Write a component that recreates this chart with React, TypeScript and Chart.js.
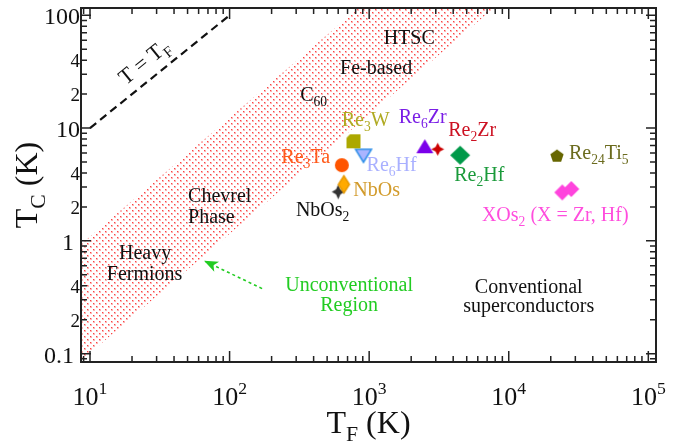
import React, { useEffect, useRef } from "react";
import { Chart, registerables } from "chart.js";

Chart.register(...registerables);

// ---------- axis ranges ----------
const X_RANGE = [8.62, 113500];
const Y_RANGE = [0.0843, 116];

// ---------- tick labels ----------
const xMajorTicks = [10, 100, 1000, 10000, 100000];
const xMajorLabels = ["10^{1}", "10^{2}", "10^{3}", "10^{4}", "10^{5}"];
const yMajorTicks = [0.1, 1, 10, 100];
const yMajorLabels = ["0.1 ", "1 ", "10", "100"];
const yMinorLabelTicks = [0.2, 0.4, 2, 4, 20, 40];
const yMinorLabels = ["2", "4", "2", "4", "2", "4"];

// ---------- materials ----------
const materials = ["Re3W", "Re6Hf", "Re3Ta", "NbOs", "NbOs2", "Re6Zr", "Re2Zr", "Re2Hf", "Re24Ti5", "XOs2"];
const materialTF = [[772], [910], [637], [659], [600], [2506], [3097], [4487], [22150], [24180, 28050]];
const materialTC = [[7.63], [5.68], [4.69], [3.17], [2.72], [6.9], [6.49], [5.74], [5.74], [2.69, 2.88]];
const materialLabels = ["Re_{3}W", "Re_{6}Hf", "Re_{3}Ta", "NbOs", "NbOs_{2}", "Re_{6}Zr", "Re_{2}Zr", "Re_{2}Hf", "Re_{24}Ti_{5}", "XOs_{2} (X = Zr, Hf)"];
const materialLabelTF = [944, 1449, 351, 1132, 464, 2418, 5470, 6150, 44200, 21540];
const materialLabelTC = [10.35, 4.15, 4.88, 2.5, 1.66, 11.0, 8.45, 3.39, 5.29, 1.502];

// ---------- unconventional band (polygon) ----------
const bandTF = [8.6, 840, 7800, 8.3];
const bandTC = [0.93, 116, 116, 0.083];

// ---------- T = TF line ----------
const equalTF = [10, 100];
const equalTC = [10, 100];

// ---------- arrow ----------
const arrowTF = [171, 65.6];
const arrowTC = [0.377, 0.666];

// ---------- region notes ----------
const noteTexts = ["HTSC", "Fe-based", "C_{60}", "Chevrel", "Phase", "Heavy", "Fermions", "Unconventional", "Region", "Conventional", "superconductors"];
const noteTF = [1936, 1122, 400, 50.4, 50.4, 24.8, 24.6, 719, 719, 13900, 13900];
const noteTC = [55.9, 30.4, 17.2, 2.21, 1.442, 0.694, 0.453, 0.362, 0.241, 0.348, 0.2317];
const noteAlign = ["center", "center", "center", "left", "left", "center", "center", "center", "center", "center", "center"];
const noteColors = ["#111", "#111", "#111", "#111", "#111", "#111", "#111", "#22cc22", "#22cc22", "#111", "#111"];

const equalLabel = "T = T_{F}";
const equalLabelTF = 24.4;
const equalLabelTC = 38.8;

const markerStyles = [
  { shape: "bevelSquare", w: 14, h: 14, fill: "#aca800", stroke: "", text: "#b0aa22" },
  { shape: "triDown", w: 16, h: 13, fill: "#aab4ff", stroke: "#2e8fe8", text: "#a9b0ff" },
  { shape: "circle", w: 14, h: 14, fill: "#ff5500", stroke: "", text: "#ff5a1a" },
  { shape: "diamond", w: 11, h: 17, fill: "#ffaa00", stroke: "#e89a00", text: "#d29b2c" },
  { shape: "star4", w: 13, h: 15, fill: "#333333", stroke: "", text: "#111111" },
  { shape: "triUp", w: 17, h: 14, fill: "#7a00ea", stroke: "", text: "#7a1ee6" },
  { shape: "star4", w: 13, h: 13, fill: "#cc0000", stroke: "", text: "#cc1122" },
  { shape: "diamond", w: 20, h: 19, fill: "#009949", stroke: "", text: "#1a9a3a" },
  { shape: "pentagon", w: 14, h: 13, fill: "#666600", stroke: "", text: "#6b6b1e" },
  { shape: "diamond", w: 16, h: 16, fill: "#ff44dd", stroke: "", text: "#ff4ddd" },
];

const FONT = '"Liberation Serif", "Times New Roman", Times, serif';

function makeMarker(s: any) {
  const pad = 2;
  const c = document.createElement("canvas");
  c.width = s.w + pad * 2;
  c.height = s.h + pad * 2;
  const g = c.getContext("2d")!;
  const cx = c.width / 2, cy = c.height / 2, rx = s.w / 2, ry = s.h / 2;
  g.beginPath();
  if (s.shape === "circle") {
    g.ellipse(cx, cy, rx, ry, 0, 0, Math.PI * 2);
  } else if (s.shape === "diamond") {
    g.moveTo(cx, cy - ry); g.lineTo(cx + rx, cy); g.lineTo(cx, cy + ry); g.lineTo(cx - rx, cy);
  } else if (s.shape === "triUp") {
    g.moveTo(cx, cy - ry); g.lineTo(cx + rx, cy + ry); g.lineTo(cx - rx, cy + ry);
  } else if (s.shape === "triDown") {
    g.moveTo(cx - rx, cy - ry); g.lineTo(cx + rx, cy - ry); g.lineTo(cx, cy + ry);
  } else if (s.shape === "pentagon") {
    for (let i = 0; i < 5; i++) {
      const a = -Math.PI / 2 + (i * 2 * Math.PI) / 5;
      const px = cx + rx * Math.cos(a), py = cy + 1 + ry * 1.05 * Math.sin(a);
      if (i === 0) g.moveTo(px, py); else g.lineTo(px, py);
    }
  } else if (s.shape === "star4") {
    for (let i = 0; i < 8; i++) {
      const a = -Math.PI / 2 + (i * Math.PI) / 4;
      const k = i % 2 === 0 ? 1 : 0.48;
      const px = cx + rx * k * Math.cos(a), py = cy + ry * k * Math.sin(a);
      if (i === 0) g.moveTo(px, py); else g.lineTo(px, py);
    }
  } else if (s.shape === "bevelSquare") {
    const b = 3.5;
    g.moveTo(cx - rx + b, cy - ry); g.lineTo(cx + rx, cy - ry); g.lineTo(cx + rx, cy + ry);
    g.lineTo(cx - rx, cy + ry); g.lineTo(cx - rx, cy - ry + b);
  }
  g.closePath();
  g.fillStyle = s.fill;
  g.fill();
  if (s.stroke) {
    g.strokeStyle = s.stroke;
    g.lineWidth = 1.5;
    g.stroke();
  }
  return c;
}

function makeDots(ctx: CanvasRenderingContext2D) {
  const t = document.createElement("canvas");
  t.width = 6; t.height = 6;
  const g = t.getContext("2d")!;
  g.fillStyle = "rgba(250,40,40,0.35)";
  g.fillRect(0, 0, 2, 2);
  g.fillRect(3, 3, 2, 2);
  g.fillStyle = "rgba(250,30,30,0.75)";
  g.fillRect(0, 0, 1, 1);
  g.fillRect(3, 3, 1, 1);
  return ctx.createPattern(t, "repeat");
}

function parseRich(s: string) {
  const parts: { t: string; k: string }[] = [];
  const re = /([_^])\{([^}]*)\}/g;
  let last = 0;
  let m: RegExpExecArray | null;
  while ((m = re.exec(s))) {
    if (m.index > last) parts.push({ t: s.slice(last, m.index), k: "" });
    parts.push({ t: m[2], k: m[1] });
    last = re.lastIndex;
  }
  if (last < s.length) parts.push({ t: s.slice(last), k: "" });
  return parts;
}

function drawRich(ctx: CanvasRenderingContext2D, s: string, x: number, y: number, size: number, color: string, align: string) {
  const parts = parseRich(s);
  const small = size * 0.68;
  let w = 0;
  for (const p of parts) {
    ctx.font = `${p.k ? small : size}px ${FONT}`;
    w += ctx.measureText(p.t).width;
  }
  let cx = align === "center" ? x - w / 2 : align === "right" ? x - w : x;
  ctx.textAlign = "left";
  ctx.textBaseline = "alphabetic";
  ctx.fillStyle = color;
  for (const p of parts) {
    ctx.font = `${p.k ? small : size}px ${FONT}`;
    const dy = p.k === "_" ? size * 0.25 : p.k === "^" ? -size * 0.42 : 0;
    ctx.fillText(p.t, cx, y + dy);
    cx += ctx.measureText(p.t).width;
  }
}

function minorValues(min: number, max: number) {
  const out: number[] = [];
  for (let k = -3; k <= 6; k++) {
    for (let m = 2; m <= 9; m++) {
      const v = Number((m * Math.pow(10, k)).toPrecision(6));
      if (v >= min && v <= max) out.push(v);
    }
  }
  return out;
}

const overlay = {
  id: "overlay",
  afterDatasetsDraw(chart: any) {
    const { ctx, chartArea: a } = chart;
    const xs = chart.scales.x, ys = chart.scales.y;
    ctx.save();

    // arrow head
    const am = chart.getDatasetMeta(2).data;
    if (am.length === 2) {
      const t = am[0], h = am[1];
      const ang = Math.atan2(h.y - t.y, h.x - t.x);
      const L = 14, W = 5.5;
      ctx.beginPath();
      ctx.moveTo(h.x, h.y);
      ctx.lineTo(h.x - L * Math.cos(ang) + W * Math.sin(ang), h.y - L * Math.sin(ang) - W * Math.cos(ang));
      ctx.lineTo(h.x - L * 0.75 * Math.cos(ang), h.y - L * 0.75 * Math.sin(ang));
      ctx.lineTo(h.x - L * Math.cos(ang) - W * Math.sin(ang), h.y - L * Math.sin(ang) + W * Math.cos(ang));
      ctx.closePath();
      ctx.fillStyle = "#22cc22";
      ctx.fill();
    }

    // notes
    noteTexts.forEach((t, i) => {
      drawRich(ctx, t, xs.getPixelForValue(noteTF[i]), ys.getPixelForValue(noteTC[i]), 20, noteColors[i], noteAlign[i]);
    });
    // material labels
    materialLabels.forEach((t, i) => {
      drawRich(ctx, t, xs.getPixelForValue(materialLabelTF[i]), ys.getPixelForValue(materialLabelTC[i]), 20, markerStyles[i].text, "center");
    });
    // T = TF label (rotated)
    {
      const px = xs.getPixelForValue(equalLabelTF), py = ys.getPixelForValue(equalLabelTC);
      const ang = Math.atan2(ys.getPixelForValue(equalTC[1]) - ys.getPixelForValue(equalTC[0]), xs.getPixelForValue(equalTF[1]) - xs.getPixelForValue(equalTF[0]));
      ctx.save();
      ctx.translate(px, py);
      ctx.rotate(ang);
      drawRich(ctx, equalLabel, 0, 7, 22, "#111", "center");
      ctx.restore();
    }

    // frame
    ctx.strokeStyle = "#222";
    ctx.lineWidth = 2;
    ctx.strokeRect(a.left, a.top, a.right - a.left, a.bottom - a.top);

    // ticks
    ctx.lineWidth = 1.5;
    ctx.beginPath();
    const xMinor = minorValues(X_RANGE[0], X_RANGE[1]);
    const yMinor = minorValues(Y_RANGE[0], Y_RANGE[1]);
    const xt = (v: number, len: number) => {
      const p = xs.getPixelForValue(v);
      ctx.moveTo(p, a.bottom); ctx.lineTo(p, a.bottom - len);
      ctx.moveTo(p, a.top); ctx.lineTo(p, a.top + len);
    };
    const yt = (v: number, len: number) => {
      const p = ys.getPixelForValue(v);
      ctx.moveTo(a.left, p); ctx.lineTo(a.left + len, p);
      ctx.moveTo(a.right, p); ctx.lineTo(a.right - len, p);
    };
    xMajorTicks.forEach((v) => xt(v, 11));
    xMinor.forEach((v) => xt(v, 6));
    yMajorTicks.forEach((v) => yt(v, 10));
    yMinor.forEach((v) => yt(v, 6));
    ctx.stroke();

    // tick labels
    xMajorTicks.forEach((v, i) => {
      drawRich(ctx, xMajorLabels[i], xs.getPixelForValue(v), a.bottom + 43, 26, "#111", "center");
    });
    yMajorTicks.forEach((v, i) => {
      drawRich(ctx, yMajorLabels[i], a.left - 1, ys.getPixelForValue(v) + 9, 24, "#111", "right");
    });
    yMinorLabelTicks.forEach((v, i) => {
      drawRich(ctx, yMinorLabels[i], a.left - 1, ys.getPixelForValue(v) + 7, 19, "#111", "right");
    });

    // axis titles
    drawRich(ctx, "T_{F} (K)", (a.left + a.right) / 2, 433, 32, "#111", "center");
    ctx.save();
    ctx.translate(37, (a.top + a.bottom) / 2);
    ctx.rotate(-Math.PI / 2);
    drawRich(ctx, "T_{C} (K)", 0, 0, 32, "#111", "center");
    ctx.restore();

    ctx.restore();
  },
};

export default function App() {
  const ref = useRef<HTMLCanvasElement>(null);
  useEffect(() => {
    document.body.style.margin = "0";
    const canvas = ref.current!;
    const ctx = canvas.getContext("2d")!;
    const pattern = makeDots(ctx);
    const datasets: any[] = [];
    datasets.push({
      type: "line",
      label: "Unconventional region",
      data: bandTF.map((v, i) => ({ x: v, y: bandTC[i] })),
      fill: "shape",
      backgroundColor: pattern,
      borderColor: "rgba(0,0,0,0)",
      borderWidth: 0,
      pointRadius: 0,
      order: 10,
    });
    datasets.push({
      type: "line",
      label: "T = TF",
      data: equalTF.map((v, i) => ({ x: v, y: equalTC[i] })),
      borderColor: "#111",
      borderWidth: 2.2,
      borderDash: [8, 5],
      pointRadius: 0,
      fill: false,
      order: 5,
    });
    datasets.push({
      type: "line",
      label: "arrow",
      data: arrowTF.map((v, i) => ({ x: v, y: arrowTC[i] })),
      borderColor: "#22cc22",
      borderWidth: 1.6,
      borderDash: [3, 3],
      pointRadius: 0,
      fill: false,
      order: 5,
    });
    materials.forEach((m, i) => {
      datasets.push({
        type: "scatter",
        label: m,
        data: materialTF[i].map((v, j) => ({ x: v, y: materialTC[i][j] })),
        pointStyle: makeMarker(markerStyles[i]),
        pointRadius: 7,
        order: 0,
      });
    });
    const chart = new Chart(canvas, {
      type: "scatter",
      data: { datasets },
      options: {
        animation: false,
        responsive: false,
        maintainAspectRatio: false,
        events: [],
        layout: { padding: { left: 81, top: 6, right: 39, bottom: 83 } },
        plugins: { legend: { display: false }, tooltip: { enabled: false } },
        scales: {
          x: { type: "logarithmic", min: X_RANGE[0], max: X_RANGE[1], display: false },
          y: { type: "logarithmic", min: Y_RANGE[0], max: Y_RANGE[1], display: false },
        },
      },
      plugins: [overlay],
    } as any);
    return () => chart.destroy();
  }, []);
  return (
    <div style={{ position: "absolute", left: 0, top: 0, width: 695, height: 445, background: "#fff" }}>
      <canvas ref={ref} width={695} height={445} style={{ width: 695, height: 445, display: "block" }} />
    </div>
  );
}
